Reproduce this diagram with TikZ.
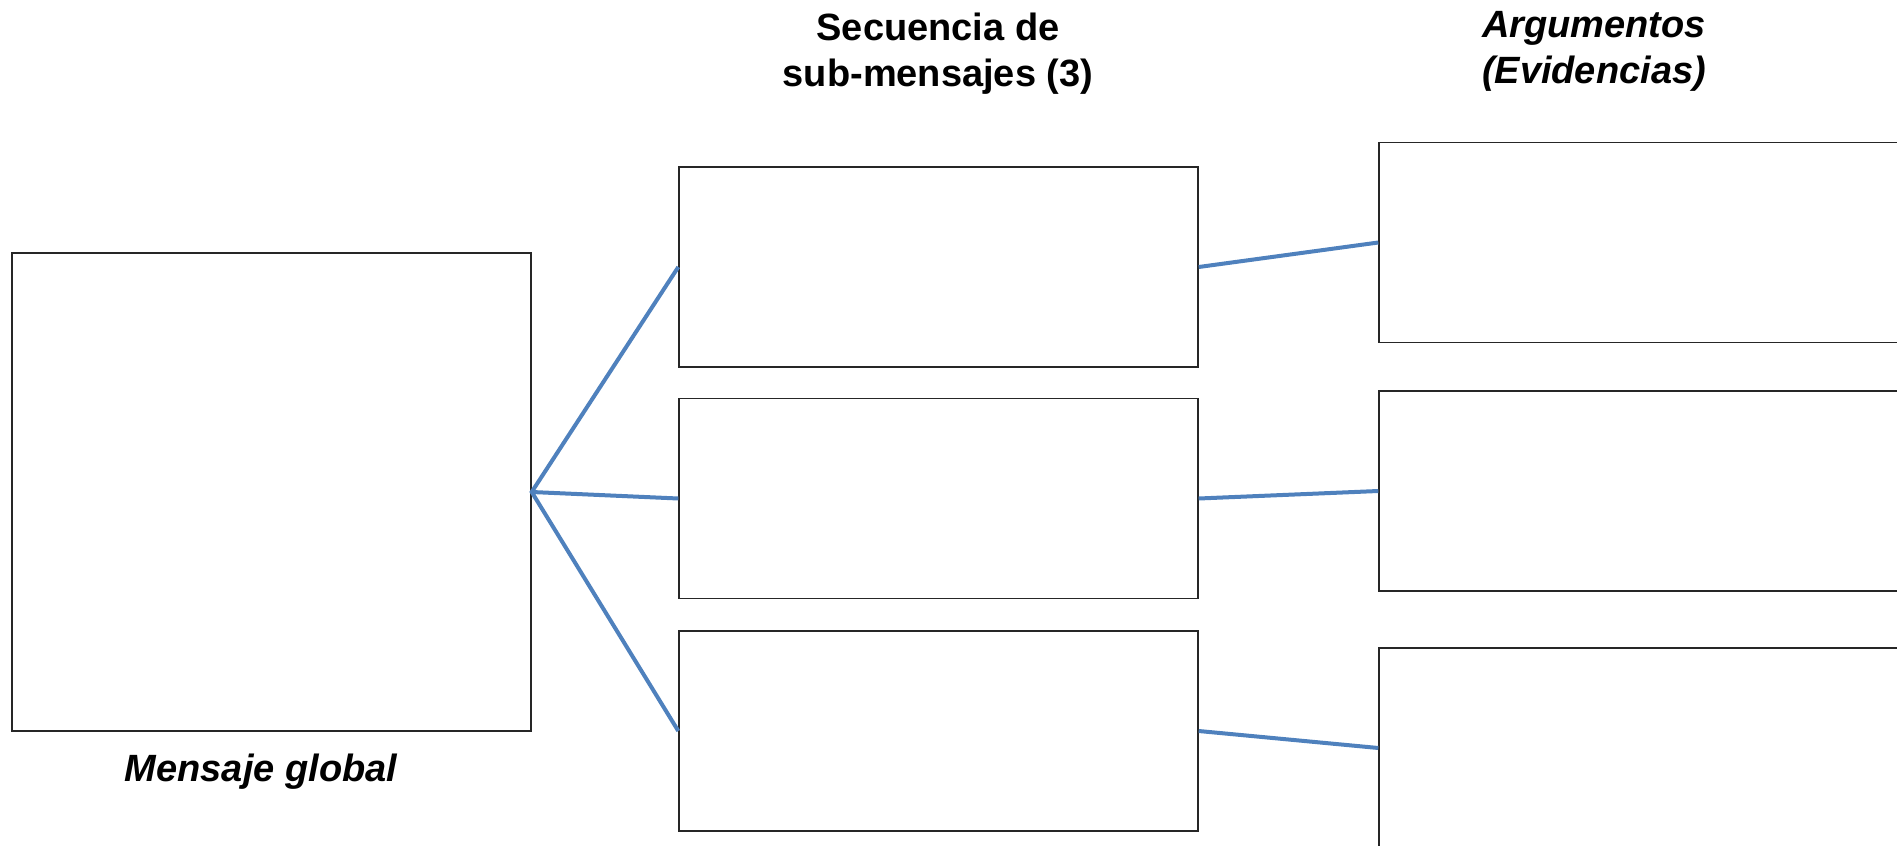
\documentclass[tikz,border=0pt]{standalone}
\usepackage{fontspec}
\setmainfont{Liberation Sans}
\usepackage{xcolor}
\definecolor{linkblue}{RGB}{79,129,189}

\begin{document}
\begin{tikzpicture}[x=0.5pt,y=-0.5pt,
        box/.style={draw=black!85,line width=0.7pt,inner sep=0pt,minimum width=259.5pt,minimum height=100pt},
        link/.style={draw=linkblue,line width=2pt},
        title/.style={font=\fontsize{19}{23}\selectfont\bfseries,align=center}]
            \useasboundingbox (0,0) rectangle (1897,846);
            \node (glob) at (271.5,492) [box,minimum height=239pt] {};
            \node (sub1) at (938.5,267) [box] {};
            \node (sub2) at (938.5,498.5) [box] {};
            \node (sub3) at (938.5,731) [box] {};
            \node (arg1) at (1642,242.5) [box,minimum width=263pt] {};
            \node (arg2) at (1642,491) [box,minimum width=263pt] {};
            \node (arg3) at (1642,748) [box,minimum width=263pt] {};
            \node (tsub) at (938,54) [title] {Secuencia de\\sub-mensajes (3)};
            \node (targ) at (1594,51) [title,font=\fontsize{19}{23}\selectfont\bfseries\itshape] {Argumentos\\(Evidencias)};
            \node (tglob) at (261,772) [title,font=\fontsize{19}{23}\selectfont\bfseries\itshape] {Mensaje global};
            \draw[link] (sub1.west) -- (glob.east) -- (sub3.west) (glob.east) -- (sub2.west);
            \draw[link] (sub1.east) -- (arg1.west) (sub2.east) -- (arg2.west) (sub3.east) -- (arg3.west);
        \end{tikzpicture}
\end{document}
